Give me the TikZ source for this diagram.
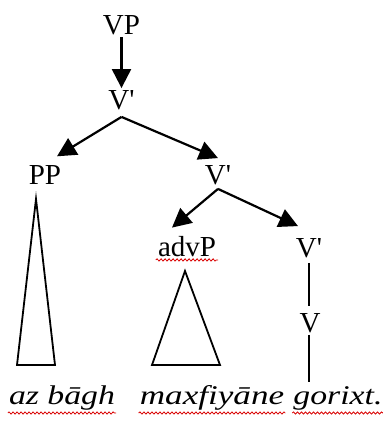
\documentclass[tikz,border=0pt]{standalone}
\usepackage{fontspec}
\setmainfont{Liberation Serif}
\usepackage{graphicx}
\usetikzlibrary{arrows.meta,decorations.pathmorphing}

\newcommand{\wideit}[1]{\scalebox{1.25}[1]{#1}}

\begin{document}
\begin{tikzpicture}[x=1pt,y=-1pt,
  lab/.style={font=\fontsize{29}{32}\selectfont,inner sep=2pt},
  word/.style={font=\fontsize{27}{30}\selectfont\itshape,inner sep=1pt,anchor=base},
  arr/.style={line width=2.2pt,-{Triangle[length=19pt,width=19pt]}},
  stem/.style={line width=2.2pt},
  tri/.style={line width=1.8pt,line join=miter},
  squig/.style={red!85!black,line width=0.8pt,decorate,decoration={snake,amplitude=1.1pt,segment length=4pt}}]
\useasboundingbox (0,0) rectangle (382,422);
\node[lab] (vp) at (121.5,25) {VP};
\node[lab] (v1) at (121.5,100) {V\textquotesingle};
\node[lab] (pp) at (45,175) {PP};
\node[lab] (v2) at (218,175) {V\textquotesingle};
\node[lab] (advp) at (187,247) {advP};
\node[lab] (v3) at (309,248) {V\textquotesingle};
\node[lab] (v) at (310,323) {V};
\node[word] (az) at (62,404) {\wideit{az bāgh}};
\node[word] (mx) at (212,404) {\scalebox{1.3}[1]{maxfiyāne}};
\node[word] (gx) at (338,404) {\wideit{gorixt.}};
\draw[arr] (vp.south) to (v1.north);
\draw[arr] ([yshift=-5pt]v1.south) to ([xshift=12pt,yshift=7pt]pp.north);
\draw[arr] ([yshift=-5pt]v1.south) to ([yshift=5pt]v2.north);
\draw[arr] ([yshift=-2pt]v2.south) to ([xshift=-15pt,yshift=7pt]advp.north);
\draw[arr] ([yshift=-2pt]v2.south) to ([xshift=-11pt,yshift=10pt]v3.north);
\draw[stem,shorten <=3pt,shorten >=5pt] (v3.south) to (v3.south |- v.north);
\draw[stem,shorten >=3pt] (v3.south |- v.south) to (v3.south |- gx.north);
\draw[tri] (36,199) -- (17,365) -- (55,365) -- cycle;
\draw[tri] (185,271) -- (152,365) -- (220,365) -- cycle;
\draw[squig] ([yshift=-3pt]advp.base west) -- ([yshift=-3pt]advp.base east);
\draw[squig] ([yshift=-9pt]az.base west) -- ([yshift=-9pt]az.base east);
\draw[squig] ([yshift=-9pt]mx.base west) -- ([yshift=-9pt]mx.base east);
\draw[squig] ([yshift=-9pt]gx.base west) -- ([yshift=-9pt]gx.base east);
\end{tikzpicture}
\end{document}
